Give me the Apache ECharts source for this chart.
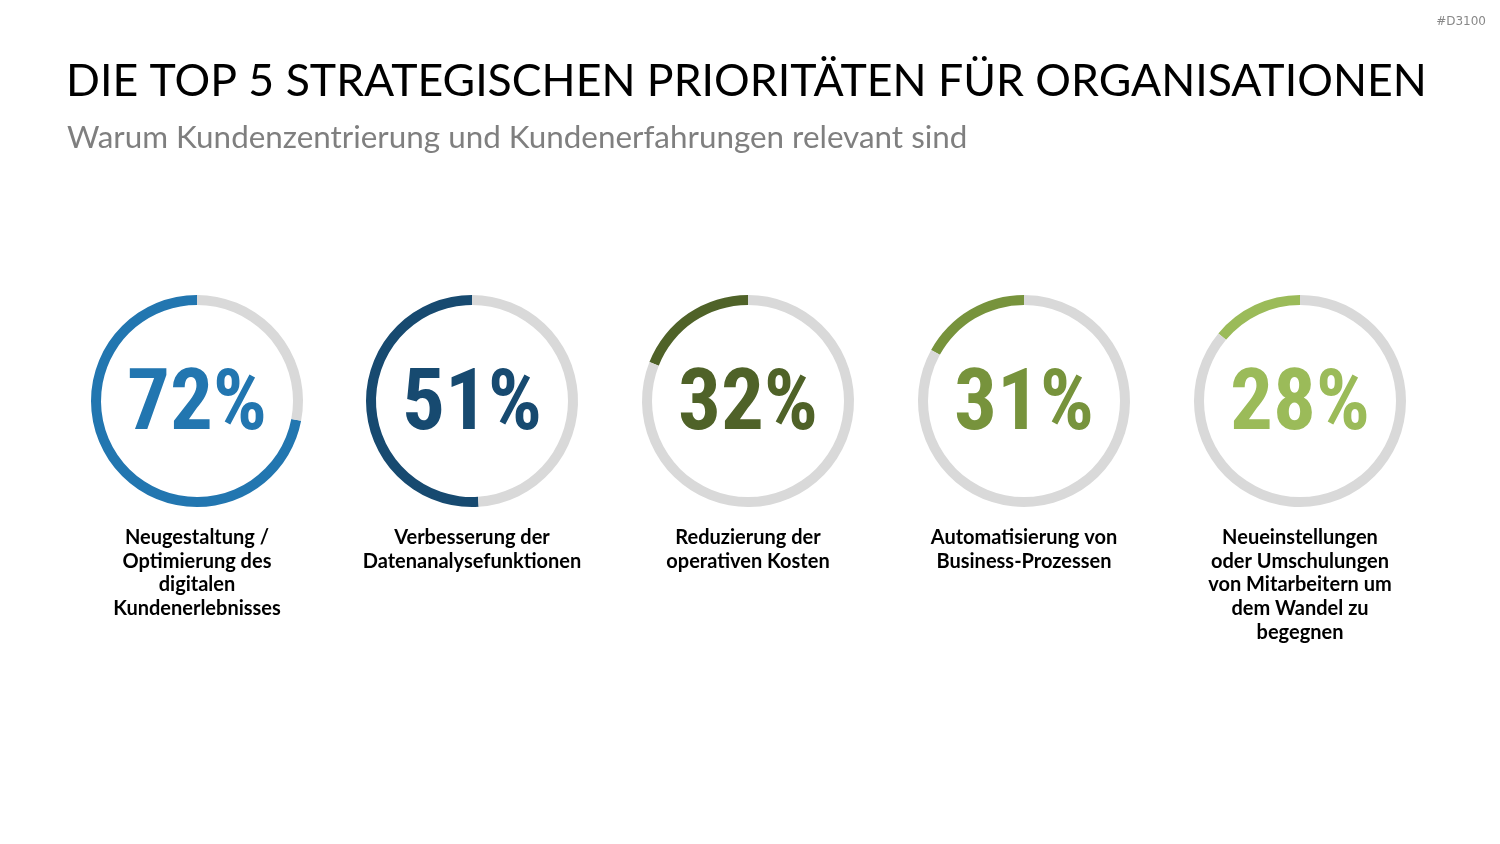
<!DOCTYPE html>
<html>
<head>
<meta charset="utf-8">
<title>Top 5 strategische Prioritäten</title>
<script src="https://cdn.jsdelivr.net/npm/echarts@6/dist/echarts.min.js"></script>
<style>
    html, body { margin: 0; padding: 0; background: #fff; }
    #chart { width: 1500px; height: 844px; }
</style>
</head>
<body>
<div id="chart"></div>
<script>
    // Werte aus der Vorlage
    const categories = [
        'Neugestaltung /\nOptimierung des\ndigitalen\nKundenerlebnisses',
        'Verbesserung der\nDatenanalysefunktionen',
        'Reduzierung der\noperativen Kosten',
        'Automatisierung von\nBusiness-Prozessen',
        'Neueinstellungen\noder Umschulungen\nvon Mitarbeitern um\ndem Wandel zu\nbegegnen'
    ]
    const percentLabels = [72, 51, 32, 31, 28]
    // gefüllter Anteil der Ringe, so wie er im Bild gezeichnet ist
    const ringShare = [72, 51, 19, 17, 14]
    const ringColors = ['#2276b0', '#174a70', '#4f6228', '#77933c', '#9bbb59']

    const chart = echarts.init(document.getElementById('chart'))

    const centersX = [197, 472, 748, 1024, 1300]
    const centerY = 401

    let series = []
    let titles = [
        {
            text: 'DIE TOP 5 STRATEGISCHEN PRIORITÄTEN FÜR ORGANISATIONEN',
            left: 66, top: 59, padding: 0,
            textStyle: { fontFamily: 'Lato', fontWeight: 'normal', fontSize: 44.6, color: '#000' }
        },
        {
            text: 'Warum Kundenzentrierung und Kundenerfahrungen relevant sind',
            left: 67, top: 122, padding: 0,
            textStyle: { fontFamily: 'Lato', fontWeight: 'normal', fontSize: 31.4, color: '#7f7f7f' }
        },
        {
            text: '#D3100',
            right: 14, top: 16, padding: 0,
            textStyle: { fontFamily: 'DejaVu Sans', fontWeight: 'normal', fontSize: 12, color: '#888' }
        }
    ]

    ringShare.forEach((v, i) => {
        series.push({
            type: 'pie',
            center: [centersX[i], centerY],
            radius: [96, 106],
            startAngle: 90,
            clockwise: false,
            silent: true,
            avoidLabelOverlap: false,
            labelLine: { show: false },
            emphasis: { disabled: true },
            data: [
                {
                    value: v,
                    itemStyle: { color: ringColors[i] },
                    label: {
                        show: true,
                        position: 'center',
                        formatter: percentLabels[i] + '%',
                        fontFamily: '"Roboto Condensed", Roboto',
                        fontWeight: 'bold',
                        fontSize: 85,
                        offset: [0, 7],
                        color: ringColors[i]
                    }
                },
                {
                    value: 100 - v,
                    itemStyle: { color: '#d9d9d9' },
                    label: { show: false }
                }
            ]
        })
        titles.push({
            text: categories[i],
            left: centersX[i],
            top: 526,
            padding: 0,
            textAlign: 'center',
            textStyle: {
                fontFamily: 'Lato',
                fontWeight: 'bold',
                fontSize: 20,
                lineHeight: 23.6,
                color: '#000'
            }
        })
    })

    chart.setOption({
        backgroundColor: '#fff',
        animation: false,
        title: titles,
        series: series
    })
</script>
</body>
</html>
